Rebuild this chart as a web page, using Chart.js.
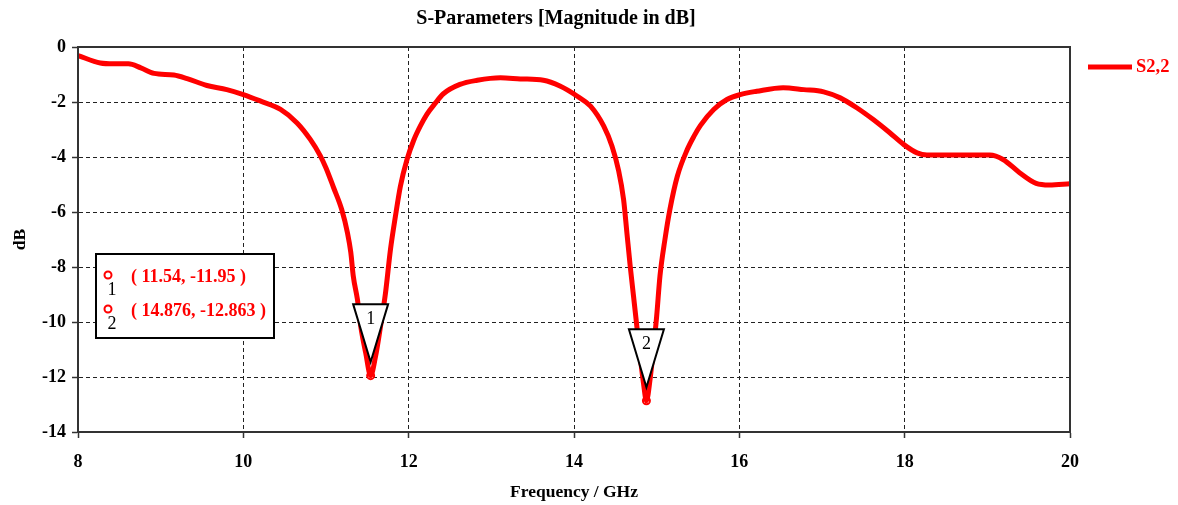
<!DOCTYPE html>
<html><head><meta charset="utf-8">
<script src="https://cdn.jsdelivr.net/npm/chart.js@4.4.1/dist/chart.umd.min.js"></script>
<style>html,body{margin:0;padding:0;background:#fff;} #wrap{width:1178px;height:505px;position:relative;}</style>
</head><body><div id="wrap"><canvas id="c" width="1178" height="505"></canvas></div>
<script>
const chartTitle = 'S-Parameters [Magnitude in dB]';
const xAxisTitle = 'Frequency / GHz';
const yAxisTitle = 'dB';
const seriesName = 'S2,2';
const freqGHz = [8.0, 8.27, 8.43, 8.61, 8.76, 8.92, 9.16, 9.32, 9.56, 9.80, 10.0, 10.21, 10.45, 10.65, 10.81, 10.93, 11.0, 11.09, 11.19, 11.26, 11.30, 11.33, 11.38, 11.42, 11.48, 11.54, 11.60, 11.66, 11.72, 11.78, 11.84, 11.90, 11.98, 12.06, 12.14, 12.22, 12.32, 12.42, 12.62, 12.83, 13.11, 13.35, 13.63, 13.83, 14.04, 14.20, 14.36, 14.46, 14.54, 14.60, 14.64, 14.68, 14.72, 14.76, 14.80, 14.84, 14.876, 14.92, 14.96, 15.00, 15.04, 15.10, 15.16, 15.25, 15.37, 15.45, 15.53, 15.69, 15.85, 16.01, 16.21, 16.53, 16.78, 17.02, 17.22, 17.42, 17.62, 17.82, 17.99, 18.15, 18.27, 18.63, 19.03, 19.19, 19.39, 19.59, 19.75, 20.0];
const s22dB = [-0.31, -0.58, -0.61, -0.61, -0.76, -0.96, -1.02, -1.15, -1.40, -1.55, -1.73, -1.97, -2.27, -2.76, -3.36, -3.95, -4.40, -5.10, -5.91, -6.76, -7.47, -8.33, -9.18, -10.15, -11.12, -11.95, -11.24, -10.15, -8.94, -7.36, -6.15, -5.06, -4.09, -3.40, -2.88, -2.45, -2.05, -1.70, -1.36, -1.21, -1.12, -1.16, -1.21, -1.42, -1.79, -2.15, -2.88, -3.61, -4.50, -5.55, -6.76, -7.97, -9.06, -10.15, -11.24, -12.21, -12.863, -12.09, -11.00, -9.79, -8.33, -7.00, -5.91, -4.70, -3.73, -3.25, -2.85, -2.27, -1.91, -1.73, -1.61, -1.48, -1.55, -1.63, -1.85, -2.21, -2.64, -3.12, -3.55, -3.85, -3.93, -3.93, -3.93, -4.09, -4.57, -4.96, -5.02, -4.97];
const markerIds = ['1', '2'];
const markerFreq = [11.54, 14.876];
const markerDb = [-11.95, -12.863];
const markerText = ['( 11.54, -11.95 )', '( 14.876, -12.863 )'];
const xMin = 8, xMax = 20, xStep = 2;
const yMin = -14, yMax = 0, yStep = 2;

const SERIF = "'Liberation Serif', 'Times New Roman', serif";
const RED = '#ff0000';

const overlay = {
  id: 'overlay',
  afterDatasetsDraw(chart) {
    const {ctx, chartArea: a, scales: {x, y}} = chart;
    ctx.save();
    ctx.strokeStyle = '#333';
    ctx.lineWidth = 2;
    ctx.setLineDash([]);
    ctx.strokeRect(a.left, a.top, a.right - a.left, a.bottom - a.top);
    for (let i = 0; i < markerFreq.length; i++) {
      const px = x.getPixelForValue(markerFreq[i]);
      const py = y.getPixelForValue(markerDb[i]);
      ctx.beginPath();
      ctx.moveTo(px - 17.5, py - 71.5);
      ctx.lineTo(px + 17.5, py - 71.5);
      ctx.lineTo(px, py - 13.5);
      ctx.closePath();
      ctx.fillStyle = '#fff';
      ctx.fill();
      ctx.strokeStyle = '#000';
      ctx.lineWidth = 2;
      ctx.stroke();
      ctx.fillStyle = '#000';
      ctx.font = "18px " + SERIF;
      ctx.textAlign = 'center';
      ctx.textBaseline = 'middle';
      ctx.fillText(markerIds[i], px, py - 56);
    }
    ctx.restore();
  },
  afterDraw(chart) {
    const {ctx, chartArea: a} = chart;
    ctx.save();
    ctx.fillStyle = '#000';
    ctx.font = "bold 20px " + SERIF;
    ctx.textAlign = 'center';
    ctx.textBaseline = 'middle';
    ctx.fillText(chartTitle, 556, 19);
    ctx.strokeStyle = RED;
    ctx.lineWidth = 5;
    ctx.beginPath();
    ctx.moveTo(a.right + 18, a.top + 20);
    ctx.lineTo(a.right + 62, a.top + 20);
    ctx.stroke();
    ctx.fillStyle = RED;
    ctx.font = "bold 18.5px " + SERIF;
    ctx.textAlign = 'left';
    ctx.fillText(seriesName, a.right + 66, a.top + 20);
    const bx = a.left + 18, by = a.top + 207, bw = 178, bh = 84;
    ctx.fillStyle = '#fff';
    ctx.fillRect(bx, by, bw, bh);
    ctx.strokeStyle = '#000';
    ctx.lineWidth = 2;
    ctx.strokeRect(bx, by, bw, bh);
    for (let i = 0; i < markerIds.length; i++) {
      const ry = by + 21 + i * 34;
      ctx.beginPath();
      ctx.arc(bx + 12, ry, 3.5, 0, Math.PI * 2);
      ctx.fillStyle = '#fff';
      ctx.fill();
      ctx.strokeStyle = RED;
      ctx.lineWidth = 2;
      ctx.stroke();
      ctx.fillStyle = '#000';
      ctx.font = "18px " + SERIF;
      ctx.textAlign = 'center';
      ctx.fillText(markerIds[i], bx + 16, ry + 15);
      ctx.fillStyle = RED;
      ctx.font = "bold 18px " + SERIF;
      ctx.textAlign = 'left';
      ctx.fillText(markerText[i], bx + 35, ry + 2);
    }
    ctx.restore();
  }
};

const points = freqGHz.map((f, i) => ({x: f, y: s22dB[i]}));
const markerPts = markerFreq.map((f, i) => ({x: f, y: markerDb[i]}));

new Chart(document.getElementById('c'), {
  type: 'scatter',
  data: {
    datasets: [
      {
        label: seriesName,
        data: points,
        showLine: true,
        borderColor: RED,
        borderWidth: 5,
        pointRadius: 0,
        cubicInterpolationMode: 'monotone',
        borderCapStyle: 'round',
        borderJoinStyle: 'round'
      },
      {
        label: 'markers',
        data: markerPts,
        showLine: false,
        pointRadius: 3.5,
        pointBorderWidth: 2,
        borderColor: RED,
        backgroundColor: '#fff'
      }
    ]
  },
  options: {
    responsive: false,
    devicePixelRatio: 1,
    animation: false,
    layout: {padding: {top: 47, right: 108, left: 0, bottom: 0}},
    plugins: {
      legend: {display: false},
      title: {display: false},
      tooltip: {enabled: false}
    },
    scales: {
      x: {
        type: 'linear',
        min: xMin, max: xMax,
        afterFit(s) { s.height = 73; },
        ticks: {stepSize: xStep, color: '#000', padding: 14, font: {family: SERIF, size: 18, weight: 'bold'}},
        grid: {color: '#222', lineWidth: 1, tickLength: 6, tickColor: '#333', tickWidth: 1.5, tickBorderDash: []},
        border: {display: true, color: '#333', width: 2, dash: [4, 3]},
        title: {display: true, text: xAxisTitle, color: '#000', padding: {top: 0, bottom: 2}, font: {family: SERIF, size: 17.5, weight: 'bold'}}
      },
      y: {
        type: 'linear',
        min: yMin, max: yMax,
        afterFit(s) { s.width = 78; },
        ticks: {stepSize: yStep, color: '#000', padding: 6, font: {family: SERIF, size: 18, weight: 'bold'}},
        grid: {color: '#222', lineWidth: 1, tickLength: 6, tickColor: '#333', tickWidth: 1.5, tickBorderDash: []},
        border: {display: true, color: '#333', width: 2, dash: [4, 3]},
        title: {display: true, text: yAxisTitle, color: '#000', padding: {top: 10, bottom: 0}, font: {family: SERIF, size: 17.5, weight: 'bold'}}
      }
    }
  },
  plugins: [overlay]
});
</script>
</body></html>
